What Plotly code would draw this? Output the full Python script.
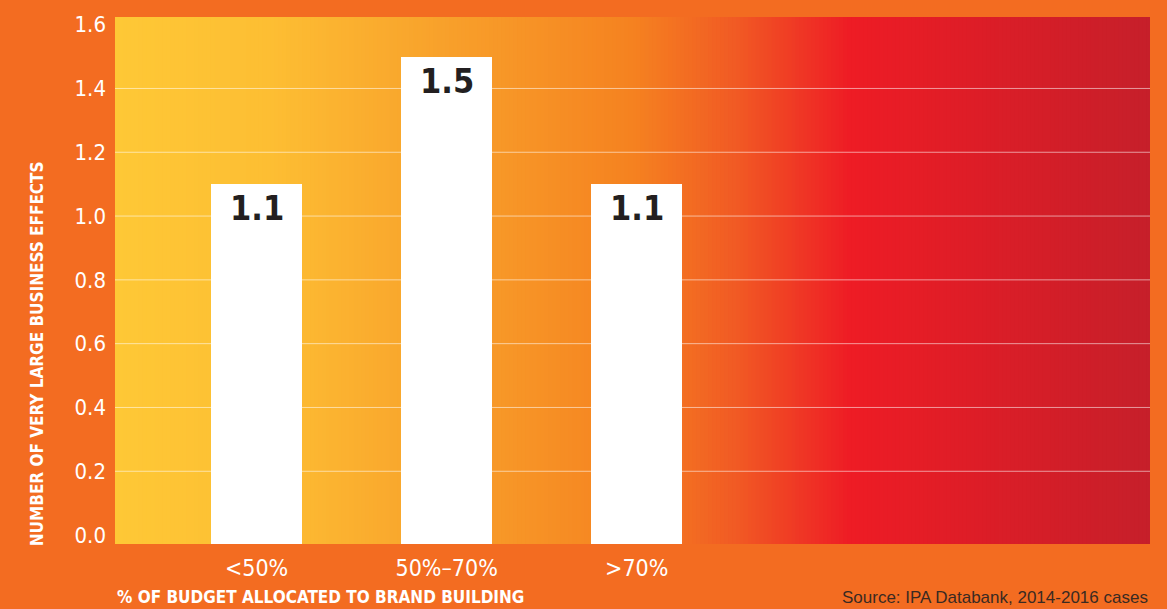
import plotly.graph_objects as go

# ---- data ----
categories = ["<50%", "50%–70%", ">70%"]
values = [1.1, 1.5, 1.1]
y_ticks = [0.0, 0.2, 0.4, 0.6, 0.8, 1.0, 1.2, 1.4, 1.6]
y_tick_text = ["0.0", "0.2", "0.4", "0.6", "0.8", "1.0", "1.2", "1.4", "1.6"]
y_title = "NUMBER OF VERY LARGE BUSINESS EFFECTS"
x_title = "% OF BUDGET ALLOCATED TO BRAND BUILDING"
source = "Source: IPA Databank, 2014-2016 cases"

# ---- style ----
PAGE_BG = "#F36C21"
COND = "DejaVu Sans Condensed, Liberation Sans Narrow, Roboto, sans-serif"
BASE = -0.028
Y_TOP = 1.624
X_RANGE = [-0.745, 4.70]
grad_stops = [
    (0.00, (254, 200, 54)),
    (0.15, (253, 190, 51)),
    (0.28, (249, 167, 45)),
    (0.50, (245, 130, 32)),
    (0.60, (241, 90, 36)),
    (0.71, (238, 28, 37)),
    (1.00, (198, 31, 42)),
]


def grad_color(t):
    for (t0, c0), (t1, c1) in zip(grad_stops[:-1], grad_stops[1:]):
        if t0 <= t <= t1:
            f = (t - t0) / (t1 - t0)
            return "rgb(%d,%d,%d)" % tuple(round(a + (b - a) * f) for a, b in zip(c0, c1))
    return "rgb(%d,%d,%d)" % grad_stops[-1][1]


xpos = list(range(len(categories)))

fig = go.Figure()
fig.add_trace(go.Bar(
    x=xpos,
    y=[v - BASE for v in values],
    base=BASE,
    width=0.48,
    marker=dict(color="white", line=dict(width=0)),
    hoverinfo="skip",
    showlegend=False,
))

shapes = []
N = 260
for i in range(N):
    shapes.append(dict(
        type="rect", xref="x domain", yref="y domain",
        x0=i / N, x1=min(1.0, (i + 1.6) / N), y0=0, y1=1,
        fillcolor=grad_color((i + 0.5) / N), line=dict(width=0), layer="below",
    ))
for v in y_ticks[1:-1]:
    shapes.append(dict(
        type="line", xref="x", yref="y", x0=X_RANGE[0], x1=X_RANGE[1], y0=v, y1=v,
        line=dict(color="rgba(255,255,255,0.55)", width=1), layer="between",
    ))

annotations = []
for x, v in zip(xpos, values):
    annotations.append(dict(
        x=x, y=v, xref="x", yref="y", text="<b>%.1f</b>" % v, showarrow=False,
        yanchor="middle", yshift=-24,
        font=dict(family=COND, size=34, color="#231F20"),
    ))
annotations.append(dict(
    xref="paper", yref="paper", x=-0.0754, y=0.362, text="<b>" + y_title + "</b>",
    textangle=-90, showarrow=False, xanchor="center", yanchor="middle",
    font=dict(family=COND, size=17, color="white"),
))
annotations.append(dict(
    xref="paper", yref="paper", x=0.0, y=-0.100, text="<b>" + x_title + "</b>",
    showarrow=False, xanchor="left", yanchor="middle",
    font=dict(family=COND, size=17, color="white"),
))
annotations.append(dict(
    xref="paper", yref="paper", x=1.0, y=-0.102, text=source,
    showarrow=False, xanchor="right", yanchor="middle",
    font=dict(family="Liberation Sans, Arial, sans-serif", size=17, color="#3A2A22"),
))

fig.update_layout(
    width=1167, height=609,
    margin=dict(l=115, r=17, t=13, b=65),
    paper_bgcolor=PAGE_BG, plot_bgcolor=PAGE_BG,
    shapes=shapes, annotations=annotations,
    bargap=0, showlegend=False,
    xaxis=dict(
        range=X_RANGE, tickmode="array", tickvals=xpos, ticktext=categories,
        showgrid=False, zeroline=False, showline=False, ticks="",
        ticklabelstandoff=8,
        tickfont=dict(family=COND, size=23, color="white"),
    ),
    yaxis=dict(
        range=[BASE, Y_TOP], tickmode="array", tickvals=y_ticks, ticktext=y_tick_text,
        showgrid=False, zeroline=False, showline=False, ticks="",
        ticklabelstandoff=8,
        tickfont=dict(family=COND, size=22, color="white"),
    ),
)

fig.write_html(
    "out.html",
    config={"displayModeBar": False},
    post_script="document.body.style.margin='0';document.body.style.background='%s';" % PAGE_BG,
)
